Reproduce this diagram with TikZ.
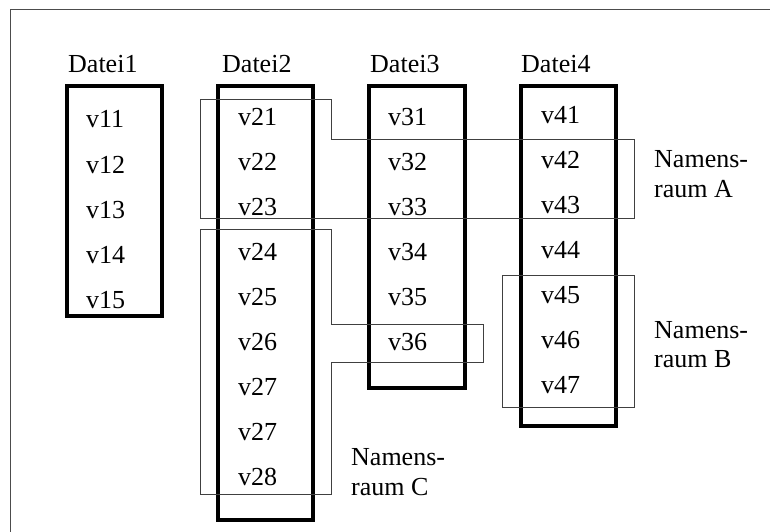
\documentclass[tikz,border=0pt]{standalone}
\usepackage{fontspec}
\setmainfont{Liberation Serif}
\begin{document}
\begin{tikzpicture}[x=1pt,y=-1pt,
  frame/.style={draw=black!70, line width=1pt},
  filebox/.style={draw=black, line width=4pt, anchor=north west, inner sep=0pt, outer sep=0pt},
  nsline/.style={draw=black!75, line width=1pt},
  txt/.style={anchor=base west, inner sep=0pt, font=\fontsize{26}{30}\selectfont}]
\useasboundingbox (0,0) rectangle (770,532);
\draw[frame] (10,532) -- (10,10) -- (770,10);
% file boxes
\node[filebox, minimum width=95pt, minimum height=230pt] (d1) at (67,86) {};
\node[filebox, minimum width=95pt, minimum height=434pt] (d2) at (218,86) {};
\node[filebox, minimum width=96pt, minimum height=302pt] (d3) at (369,86) {};
\node[filebox, minimum width=95pt, minimum height=340pt] (d4) at (521,86) {};
% titles
\node[txt] (t1) at (68,73) {Datei1};
\node[txt] (t2) at (222,73) {Datei2};
\node[txt] (t3) at (370,73) {Datei3};
\node[txt] (t4) at (521,73) {Datei4};
% variables
\foreach \n [count=\k from 0] in {11,12,13,14,15}
  \node[txt] (v\n) at (86,128+45*\k) {v\n};
\foreach \n/\m [count=\k from 0] in {21/21,22/22,23/23,24/24,25/25,26/26,27/27,27b/27,28/28}
  \node[txt] (v\n) at (238,125+45*\k) {v\m};
\foreach \n [count=\k from 0] in {31,32,33,34,35,36}
  \node[txt] (v\n) at (388,125+45*\k) {v\n};
\foreach \n [count=\k from 0] in {41,42,43,44,45,46,47}
  \node[txt] (v\n) at (541,123+45*\k) {v\n};
% name spaces
\draw[nsline] (200,100) -- (331,100) -- (331,139) -- (634,139) -- (634,218) -- (200,218) -- cycle;
\draw[nsline] (200,229) -- (331,229) -- (331,324) -- (483,324) -- (483,362) -- (331,362) -- (331,494) -- (200,494) -- cycle;
\draw[nsline] (502,275) rectangle (634,407);
% name space labels
\node[txt] (nA1) at (654,167) {Namens-};
\node[txt] (nA2) at (654,197) {raum A};
\node[txt] (nB1) at (654,338) {Namens-};
\node[txt] (nB2) at (654,367) {raum B};
\node[txt] (nC1) at (351,465) {Namens-};
\node[txt] (nC2) at (351,495) {raum C};
\end{tikzpicture}
\end{document}
